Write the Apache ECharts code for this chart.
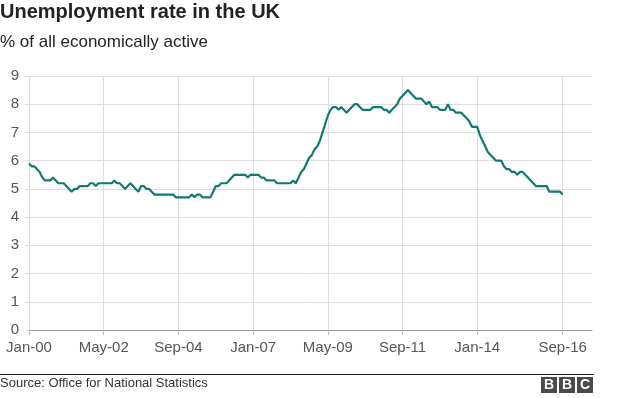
<!DOCTYPE html>
<html>
<head>
<meta charset="utf-8">
<script src="https://cdn.jsdelivr.net/npm/echarts@6/dist/echarts.min.js"></script>
<style>
  html, body { margin: 0; padding: 0; background: #fff; }
  #chart { width: 624px; height: 398px; }
</style>
</head>
<body>
<div id="chart"></div>
<script>
// monthly unemployment rate, Jan-00 .. Sep-16
var rate2000 = [5.9, 5.8, 5.8, 5.7, 5.6, 5.4, 5.3, 5.3, 5.3, 5.4, 5.3, 5.2];
var rate2001 = [5.2, 5.2, 5.1, 5.0, 4.9, 5.0, 5.0, 5.1, 5.1, 5.1, 5.1, 5.2];
var rate2002 = [5.2, 5.1, 5.2, 5.2, 5.2, 5.2, 5.2, 5.2, 5.3, 5.2, 5.2, 5.1];
var rate2003 = [5.0, 5.1, 5.2, 5.1, 5.0, 4.9, 5.1, 5.1, 5.0, 5.0, 4.9, 4.8];
var rate2004 = [4.8, 4.8, 4.8, 4.8, 4.8, 4.8, 4.8, 4.7, 4.7, 4.7, 4.7, 4.7];
var rate2005 = [4.7, 4.8, 4.7, 4.8, 4.8, 4.7, 4.7, 4.7, 4.7, 4.9, 5.1, 5.1];
var rate2006 = [5.2, 5.2, 5.2, 5.3, 5.4, 5.5, 5.5, 5.5, 5.5, 5.5, 5.4, 5.5];
var rate2007 = [5.5, 5.5, 5.5, 5.4, 5.4, 5.3, 5.3, 5.3, 5.3, 5.2, 5.2, 5.2];
var rate2008 = [5.2, 5.2, 5.2, 5.3, 5.2, 5.4, 5.6, 5.7, 5.9, 6.1, 6.2, 6.4];
var rate2009 = [6.5, 6.7, 7.0, 7.3, 7.6, 7.8, 7.9, 7.9, 7.8, 7.9, 7.8, 7.7];
var rate2010 = [7.8, 7.9, 8.0, 8.0, 7.9, 7.8, 7.8, 7.8, 7.8, 7.9, 7.9, 7.9];
var rate2011 = [7.9, 7.8, 7.8, 7.7, 7.8, 7.9, 8.0, 8.2, 8.3, 8.4, 8.5, 8.4];
var rate2012 = [8.3, 8.2, 8.2, 8.2, 8.1, 8.0, 8.1, 7.9, 7.9, 7.9, 7.8, 7.8];
var rate2013 = [7.8, 8.0, 7.8, 7.8, 7.7, 7.7, 7.7, 7.6, 7.5, 7.4, 7.2, 7.2];
var rate2014 = [7.2, 6.9, 6.7, 6.5, 6.3, 6.2, 6.1, 6.0, 6.0, 6.0, 5.8, 5.7];
var rate2015 = [5.7, 5.6, 5.6, 5.5, 5.6, 5.6, 5.5, 5.4, 5.3, 5.2, 5.1, 5.1];
var rate2016 = [5.1, 5.1, 5.1, 4.9, 4.9, 4.9, 4.9, 4.9, 4.8];

var rates = [].concat(rate2000, rate2001, rate2002, rate2003, rate2004, rate2005,
  rate2006, rate2007, rate2008, rate2009, rate2010, rate2011, rate2012,
  rate2013, rate2014, rate2015, rate2016);

var monthNames = ['Jan', 'Feb', 'Mar', 'Apr', 'May', 'Jun', 'Jul', 'Aug', 'Sep', 'Oct', 'Nov', 'Dec'];
// axis runs a little past the last point (to Aug-17)
var months = [];
for (var i = 0; i < 212; i++) {
  var yy = Math.floor(i / 12);
  months.push(monthNames[i % 12] + '-' + (yy < 10 ? '0' + yy : '' + yy));
}
var labelMonths = ['Jan-00', 'May-02', 'Sep-04', 'Jan-07', 'May-09', 'Sep-11', 'Jan-14', 'Sep-16'];
var yTicks = [0, 1, 2, 3, 4, 5, 6, 7, 8, 9];

function showMonth(idx, val) {
  return labelMonths.indexOf(months[idx]) >= 0;
}

var FONT = '"Liberation Sans", Arial, Helvetica, sans-serif';
var myChart = echarts.init(document.getElementById('chart'));
var option = {
  animation: false,
  textStyle: { fontFamily: FONT },
  title: [{
    text: 'Unemployment rate in the UK',
    left: 0, top: 2, padding: 0,
    textStyle: { fontFamily: FONT, fontSize: 20, fontWeight: 'bold', color: '#222' }
  }, {
    text: '% of all economically active',
    left: 0, top: 34, padding: 0,
    textStyle: { fontFamily: FONT, fontSize: 17, fontWeight: 'normal', color: '#222' }
  }],
  grid: { left: 29, right: 32, top: 76, bottom: 68 },
  xAxis: {
    type: 'category',
    boundaryGap: false,
    data: months,
    axisLine: { lineStyle: { color: '#999', width: 1 } },
    axisTick: { show: true, interval: showMonth, length: 5, lineStyle: { color: '#bbb' } },
    axisLabel: { interval: showMonth, color: '#555', fontSize: 15, margin: 10, fontFamily: FONT },
    splitLine: { show: true, interval: showMonth, lineStyle: { color: '#ddd', width: 1 } }
  },
  yAxis: {
    type: 'value',
    min: yTicks[0],
    max: yTicks[yTicks.length - 1],
    interval: 1,
    axisLine: { show: false },
    axisTick: { show: true, length: 4, lineStyle: { color: '#ddd' } },
    axisLabel: { color: '#555', fontSize: 15, margin: 10, fontFamily: FONT },
    splitLine: { show: true, lineStyle: { color: '#ddd', width: 1 } }
  },
  series: [{
    type: 'line',
    data: rates,
    showSymbol: false,
    lineStyle: { color: '#117a70', width: 2.2 },
    itemStyle: { color: '#117a70' }
  }],
  graphic: [
    { type: 'line', shape: { x1: 0, y1: 374.5, x2: 594, y2: 374.5 }, style: { stroke: '#222', lineWidth: 1 } },
    { type: 'text', left: 0, top: 377, style: { text: 'Source: Office for National Statistics', fontFamily: FONT, fontSize: 13, fill: '#333' } },
    { type: 'rect', shape: { x: 541, y: 377, width: 16, height: 16 }, style: { fill: '#4a4a4a' } },
    { type: 'rect', shape: { x: 559, y: 377, width: 16, height: 16 }, style: { fill: '#4a4a4a' } },
    { type: 'rect', shape: { x: 577, y: 377, width: 16, height: 16 }, style: { fill: '#4a4a4a' } },
    { type: 'text', x: 549, y: 385.5, style: { text: 'B', fontFamily: FONT, fontSize: 14, fontWeight: 'bold', fill: '#fff', align: 'center', verticalAlign: 'middle' } },
    { type: 'text', x: 567, y: 385.5, style: { text: 'B', fontFamily: FONT, fontSize: 14, fontWeight: 'bold', fill: '#fff', align: 'center', verticalAlign: 'middle' } },
    { type: 'text', x: 585, y: 385.5, style: { text: 'C', fontFamily: FONT, fontSize: 14, fontWeight: 'bold', fill: '#fff', align: 'center', verticalAlign: 'middle' } }
  ]
};
myChart.setOption(option);
window.onresize = function () { myChart.resize(); };
</script>
</body>
</html>
